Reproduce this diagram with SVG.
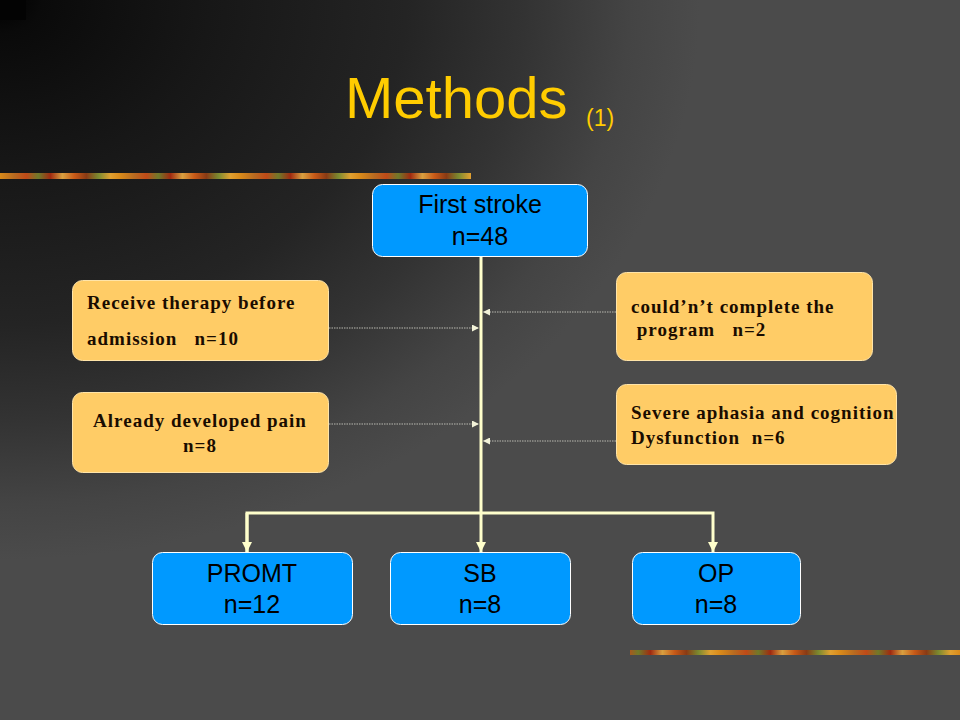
<svg xmlns="http://www.w3.org/2000/svg" width="960" height="720" viewBox="0 0 960 720">
<defs>
<radialGradient id="bg" gradientUnits="userSpaceOnUse" cx="0" cy="0" r="700" gradientTransform="scale(1,0.8)">
<stop offset="0" stop-color="#000000"/>
<stop offset="0.06" stop-color="#0a0a0a"/>
<stop offset="0.3" stop-color="#171717"/>
<stop offset="0.58" stop-color="#242424"/>
<stop offset="0.75" stop-color="#333333"/>
<stop offset="0.9" stop-color="#444444"/>
<stop offset="1" stop-color="#4b4b4b"/>
</radialGradient>
<linearGradient id="band" gradientUnits="userSpaceOnUse" x1="0" y1="0" x2="120" y2="0" spreadMethod="repeat">
<stop offset="0" stop-color="#d98a1a"/>
<stop offset="0.12" stop-color="#b86a20"/>
<stop offset="0.22" stop-color="#c04a18"/>
<stop offset="0.32" stop-color="#6f7a2a"/>
<stop offset="0.42" stop-color="#a02a10"/>
<stop offset="0.52" stop-color="#d8a040"/>
<stop offset="0.62" stop-color="#c85a18"/>
<stop offset="0.72" stop-color="#8a3a14"/>
<stop offset="0.82" stop-color="#7a8a30"/>
<stop offset="0.92" stop-color="#e0a030"/>
<stop offset="1" stop-color="#d98a1a"/>
</linearGradient>
<marker id="ah" markerWidth="10" markerHeight="10" refX="10" refY="5" orient="auto" markerUnits="userSpaceOnUse">
<path d="M0,0 L10,5 L0,10 Z" fill="#ffffcc"/>
</marker>
<marker id="ahs" markerWidth="7" markerHeight="7" refX="7" refY="3.5" orient="auto" markerUnits="userSpaceOnUse">
<path d="M0,0 L7,3.5 L0,7 Z" fill="#f2f2d8"/>
</marker>
<style>
.blue{fill:#0099ff;stroke:#ffffff;stroke-width:1}
.orange{fill:#ffcc66;stroke:#ffe4a8;stroke-width:1}
.bt{font-family:"Liberation Sans",Arial,sans-serif;font-size:25px;fill:#000000;text-anchor:middle}
.ot{font-family:"Liberation Serif","Times New Roman",serif;font-size:19px;font-weight:bold;letter-spacing:1px;fill:#1a0c00}
.main{fill:none;stroke:#ffffcc;stroke-width:3}
.dot{fill:none;stroke:#b8b8b0;stroke-width:1;stroke-dasharray:1.5 1}
</style>
</defs>
<rect width="960" height="720" fill="url(#bg)"/>
<rect x="0" y="0" width="26" height="20" fill="#030303"/>
<rect x="0" y="173" width="471" height="6" fill="url(#band)"/>
<rect x="630" y="650" width="330" height="5" fill="url(#band)"/>

<g id="title">
<text x="345" y="118" font-family="Liberation Sans, Arial, sans-serif" font-size="58" fill="#ffcc00">Methods</text>
<text x="586" y="126" font-family="Liberation Sans, Arial, sans-serif" font-size="23" fill="#ffcc00">(1)</text>
</g>

<g id="connectors">
<line class="main" x1="481" y1="256" x2="481" y2="552" marker-end="url(#ah)"/>
<polyline class="main" points="247,552 247,513 713,513 713,552" marker-end="url(#ah)"/>
<line class="main" x1="247" y1="513" x2="247" y2="552" marker-end="url(#ah)"/>
<line class="dot" x1="329" y1="328" x2="479" y2="328" marker-end="url(#ahs)"/>
<line class="dot" x1="329" y1="424" x2="479" y2="424" marker-end="url(#ahs)"/>
<line class="dot" x1="616" y1="312" x2="483" y2="312" marker-end="url(#ahs)"/>
<line class="dot" x1="616" y1="441" x2="483" y2="441" marker-end="url(#ahs)"/>
</g>

<g id="first-stroke">
<rect class="blue" x="372.5" y="184.5" width="215" height="72" rx="10"/>
<text class="bt" x="480" y="213">First stroke</text>
<text class="bt" x="480" y="245">n=48</text>
</g>

<g id="receive-therapy">
<rect class="orange" x="72.5" y="280.5" width="256" height="80" rx="10"/>
<text class="ot" x="87" y="309">Receive therapy before</text>
<text class="ot" x="87" y="345" xml:space="preserve">admission   n=10</text>
</g>

<g id="already-pain">
<rect class="orange" x="72.5" y="392.5" width="256" height="80" rx="10"/>
<text class="ot" x="200" y="427" text-anchor="middle">Already developed pain</text>
<text class="ot" x="200" y="452" text-anchor="middle">n=8</text>
</g>

<g id="couldnt-complete">
<rect class="orange" x="616.5" y="272.5" width="256" height="88" rx="10"/>
<text class="ot" x="631" y="313">could’n’t complete the</text>
<text class="ot" x="631" y="336" xml:space="preserve"> program   n=2</text>
</g>

<g id="severe-aphasia">
<rect class="orange" x="616.5" y="384.5" width="280" height="80" rx="10"/>
<text class="ot" x="631" y="419">Severe aphasia and cognition</text>
<text class="ot" x="631" y="444" xml:space="preserve">Dysfunction  n=6</text>
</g>

<g id="promt">
<rect class="blue" x="152.5" y="552.5" width="200" height="72" rx="10"/>
<text class="bt" x="252" y="582">PROMT</text>
<text class="bt" x="252" y="613">n=12</text>
</g>

<g id="sb">
<rect class="blue" x="390.5" y="552.5" width="180" height="72" rx="10"/>
<text class="bt" x="480" y="582">SB</text>
<text class="bt" x="480" y="613">n=8</text>
</g>

<g id="op">
<rect class="blue" x="632.5" y="552.5" width="168" height="72" rx="10"/>
<text class="bt" x="716" y="582">OP</text>
<text class="bt" x="716" y="613">n=8</text>
</g>
</svg>
